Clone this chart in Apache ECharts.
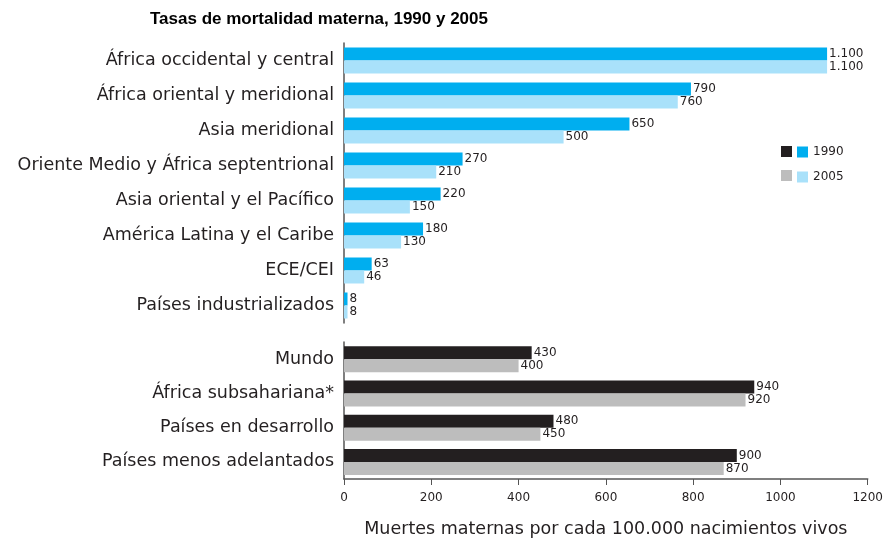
<!DOCTYPE html>
<html>
<head>
<meta charset="utf-8">
<script src="https://cdn.jsdelivr.net/npm/echarts@6/dist/echarts.min.js"></script>
<style>
  html, body { margin: 0; padding: 0; background: #fff; }
  #chart { width: 886px; height: 540px; }
</style>
</head>
<body>
<div id="chart"></div>
<script>
// regions (blue group)
const regions = ['África occidental y central', 'África oriental y meridional', 'Asia meridional',
  'Oriente Medio y África septentrional', 'Asia oriental y el Pacífico', 'América Latina y el Caribe',
  'ECE/CEI', 'Países industrializados'];
const regions1990 = [1100, 790, 650, 270, 220, 180, 63, 8];
const regions2005 = [1100, 760, 500, 210, 150, 130, 46, 8];

// aggregates (dark group)
const groups = ['Mundo', 'África subsahariana*', 'Países en desarrollo', 'Países menos adelantados'];
const groups1990 = [430, 940, 480, 900];
const groups2005 = [400, 920, 450, 870];

const xTicks = [0, 200, 400, 600, 800, 1000, 1200];

const txt = '#231F20';
const font = 'DejaVu Sans';
const fmt = v => v >= 1000 ? Math.floor(v / 1000) + '.' + String(v % 1000).padStart(3, '0') : String(v);

const chart = echarts.init(document.getElementById('chart'));

function bar(name, data, color, axis) {
  return {
    name: name,
    type: 'bar',
    xAxisIndex: axis,
    yAxisIndex: axis,
    data: data,
    barWidth: 13,
    barGap: '0%',
    itemStyle: { color: color },
    label: {
      show: true, position: 'right', distance: 2,
      color: txt, fontSize: 12, fontFamily: font,
      formatter: p => fmt(p.value)
    },
    silent: true
  };
}

const yBase = {
  type: 'category',
  inverse: true,
  axisTick: { show: false },
  axisLine: { show: true, lineStyle: { color: '#555', width: 1.5 } },
  axisLabel: { color: txt, fontSize: 17.5, fontFamily: font, margin: 10 }
};

chart.setOption({
  animation: false,
  title: {
    text: 'Tasas de mortalidad materna, 1990 y 2005',
    left: 145, top: 6,
    textStyle: { fontSize: 17, fontWeight: 'bold', color: '#000', fontFamily: 'Liberation Sans' }
  },
  legend: [
    {
      data: ['1990 ', '2005 '], orient: 'vertical', left: 776, top: 141,
      itemWidth: 11, itemHeight: 11, itemGap: 13, icon: 'rect',
      formatter: () => '', selectedMode: false
    },
    {
      data: ['1990', '2005'], orient: 'vertical', left: 792, top: 141,
      itemWidth: 11, itemHeight: 11, itemGap: 13, icon: 'rect',
      textStyle: { color: txt, fontSize: 12, fontFamily: font },
      selectedMode: false
    }
  ],
  grid: [
    { left: 344, right: 15, top: 43, height: 280 },
    { left: 344, right: 15, top: 342, height: 137 }
  ],
  xAxis: [
    { gridIndex: 0, type: 'value', min: 0, max: 1200, interval: 200, show: false },
    {
      gridIndex: 1, type: 'value', min: 0, max: 1200, interval: 200,
      splitLine: { show: false },
      axisLine: { show: true, lineStyle: { color: '#555', width: 1.5 } },
      axisTick: { show: true, length: 6, lineStyle: { color: '#555' } },
      axisLabel: { color: txt, fontSize: 12, fontFamily: font, margin: 13,
        formatter: v => xTicks.includes(v) ? String(v) : '' },
      name: 'Muertes maternas por cada 100.000 nacimientos vivos',
      nameLocation: 'middle', nameGap: 41,
      nameTextStyle: { color: txt, fontSize: 17.5, fontFamily: font }
    }
  ],
  yAxis: [
    Object.assign({ gridIndex: 0, data: regions }, yBase),
    Object.assign({ gridIndex: 1, data: groups }, yBase)
  ],
  series: [
    bar('1990', regions1990, '#00AEEF', 0),
    bar('2005', regions2005, '#A9E1FA', 0),
    bar('1990 ', groups1990, '#231F20', 1),
    bar('2005 ', groups2005, '#BDBDBD', 1)
  ]
});
</script>
</body>
</html>
